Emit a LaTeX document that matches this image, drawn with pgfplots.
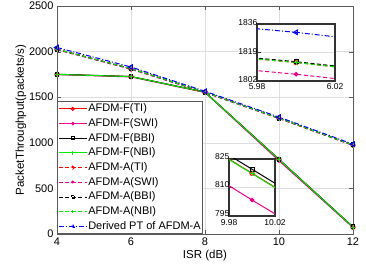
\documentclass[border=0pt]{standalone}
\usepackage{pgfplots}
\usepackage{pgfplotstable}
\pgfplotsset{compat=1.18}
\usepackage{fontspec}
\setmainfont{Liberation Sans}

\pgfplotstableread{
x y
4 1750
6 1726
8 1555
10 817.5
12 76
}\FTI
\pgfplotstableread{
x y
4 1748
6 1722
8 1552
10 803.4
12 70
}\FSWI
\pgfplotstableread{
x y
4 1752
6 1727
8 1556
10 819.6
12 78
}\FBBI
\pgfplotstableread{
x y
4 1750
6 1726
8 1555
10 817.3
12 76
}\FNBI
\pgfplotstableread{
x y
4 2025
6 1813
8 1555
10 1270
12 975
}\ATI
\pgfplotstableread{
x y
4 2020
6 1806
8 1550
10 1265
12 970
}\ASWI
\pgfplotstableread{
x y
4 2026
6 1813.5
8 1556
10 1271
12 976
}\ABBI
\pgfplotstableread{
x y
4 2025
6 1813
8 1555
10 1270
12 975
}\ANBI
\pgfplotstableread{
x y
4 2045
6 1831
8 1565
10 1282
12 985
}\DER

\definecolor{mgreen}{RGB}{0,235,0}
\pgfplotsset{
  fti/.style={red, solid, line width=1pt, mark=o, mark size=2.2pt, mark options={solid}},
  fswi/.style={magenta, solid, line width=1pt, mark=*, mark size=1.8pt, mark options={solid}},
  fbbi/.style={black, solid, line width=1pt, mark=square, mark size=2pt, mark options={solid}},
  fnbi/.style={mgreen, solid, line width=1pt, mark=+, mark size=2.5pt, mark options={solid}},
  ati/.style={red, line width=1pt, dash pattern=on 4pt off 2.5pt, mark=o, mark size=2.2pt, mark options={solid}},
  aswi/.style={magenta, line width=1pt, dash pattern=on 4pt off 2.5pt, mark=*, mark size=1.8pt, mark options={solid}},
  abbi/.style={black, line width=1pt, dash pattern=on 4pt off 2.5pt, mark=square, mark size=2pt, mark options={solid}},
  anbi/.style={mgreen, line width=1pt, dash pattern=on 4pt off 2.5pt, mark=+, mark size=2.5pt, mark options={solid}},
  der/.style={blue, line width=1pt, dash pattern=on 5pt off 2pt on 1pt off 2pt, mark=triangle, mark size=2.6pt, mark options={solid, rotate=90}},
  inset/.style={
    grid=major, major grid style={gray!25, line width=0.5pt},
    axis background/.style={fill=white},
    axis line style={black!80, line width=1.2pt},
    tick align=inside, tick style={black!80, line width=0.5pt},
    tick label style={font=\fontsize{8.5bp}{9bp}\selectfont, inner sep=0.5bp},
    yticklabel style={xshift=1bp, yshift=1.2bp},
    /pgf/number format/assume math mode=true,
    /pgf/number format/1000 sep={},
    /pgf/number format/fixed, /pgf/number format/precision=2,
    xticklabel style={/pgf/number format/fixed zerofill, yshift=-2bp},
    xtick pos=bottom, ytick pos=left,
  },
}

\begin{document}
\begin{tikzpicture}
\path[use as bounding box] (-57bp,-42bp) rectangle (309bp,234bp);
\begin{axis}[
  at={(0,0)}, anchor=south west,
  scale only axis, width=296bp, height=228bp,
  xmin=4, xmax=12, ymin=0, ymax=2500,
  xtick={4,6,8,10,12}, ytick={0,500,1000,1500,2000,2500},
  grid=major, major grid style={gray!25, line width=0.5pt},
  axis line style={gray!70!black, line width=0.6pt},
  tick align=inside, tick style={gray!70!black},
  tick label style={font=\fontsize{11bp}{12bp}\selectfont},
  /pgf/number format/assume math mode=true,
  /pgf/number format/1000 sep={},
  label style={font=\fontsize{11.5bp}{13bp}\selectfont},
  xlabel={ISR (dB)}, ylabel={PacketThroughput(packets/s)},
  xlabel style={yshift=2bp}, ylabel style={yshift=-4bp},
  legend cell align=left,
  legend style={at={(0,0)}, anchor=south west, font=\fontsize{11bp}{12bp}\selectfont,
    draw=gray!70!black, line width=0.6pt, inner sep=1bp, row sep=2.2bp,
    nodes={inner sep=1bp, text height=8bp, text depth=2.5bp}},
  legend image code/.code={%
    \draw[mark repeat=2, mark phase=2, #1, mark options={scale=0.7}]
      plot coordinates {(0bp,0bp) (14bp,0bp) (28bp,0bp)};},
]
\addplot[fti] table {\FTI}; \addlegendentry{AFDM-F(TI)}
\addplot[fswi] table {\FSWI}; \addlegendentry{AFDM-F(SWI)}
\addplot[fbbi] table {\FBBI}; \addlegendentry{AFDM-F(BBI)}
\addplot[fnbi] table {\FNBI}; \addlegendentry{AFDM-F(NBI)}
\addplot[ati] table {\ATI}; \addlegendentry{AFDM-A(TI)}
\addplot[aswi] table {\ASWI}; \addlegendentry{AFDM-A(SWI)}
\addplot[abbi] table {\ABBI}; \addlegendentry{AFDM-A(BBI)}
\addplot[anbi] table {\ANBI}; \addlegendentry{AFDM-A(NBI)}
\addplot[der] table {\DER}; \addlegendentry{Derived PT of AFDM-A}
\end{axis}

\begin{axis}[
  inset,
  at={(200bp,153bp)}, anchor=south west,
  scale only axis, width=78bp, height=57bp,
  xmin=5.98, xmax=6.02, ymin=1802, ymax=1836,
  xtick={5.98,6.02}, ytick={1802,1819,1836},
]
\addplot[fti] table {\FTI};
\addplot[fswi] table {\FSWI};
\addplot[fbbi] table {\FBBI};
\addplot[fnbi] table {\FNBI};
\addplot[ati] table {\ATI};
\addplot[aswi] table {\ASWI};
\addplot[abbi] table {\ABBI};
\addplot[anbi] table {\ANBI};
\addplot[der] table {\DER};
\end{axis}

\begin{axis}[
  inset,
  at={(172bp,18bp)}, anchor=south west,
  scale only axis, width=46bp, height=57bp,
  xmin=9.98, xmax=10.02, ymin=795, ymax=825,
  xtick={9.98,10.02}, ytick={795,810,825},
  yticklabel style={yshift=1.5bp},
  xticklabel style={yshift=-0.5bp},
]
\addplot[fti] table {\FTI};
\addplot[fswi] table {\FSWI};
\addplot[fbbi] table {\FBBI};
\addplot[fnbi] table {\FNBI};
\addplot[ati] table {\ATI};
\addplot[aswi] table {\ASWI};
\addplot[abbi] table {\ABBI};
\addplot[anbi] table {\ANBI};
\addplot[der] table {\DER};
\end{axis}
\end{tikzpicture}
\end{document}
